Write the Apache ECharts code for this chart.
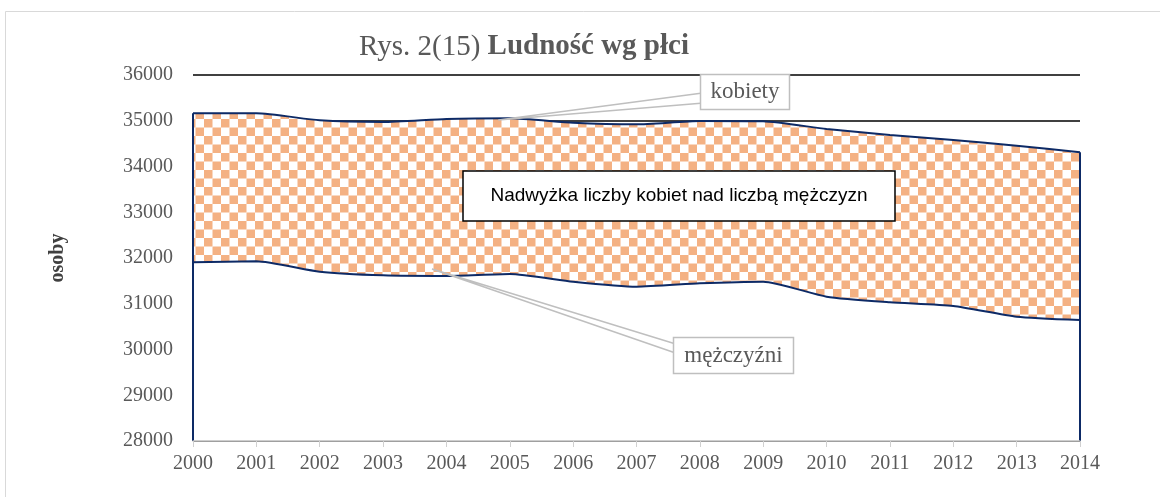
<!DOCTYPE html>
<html>
<head>
<meta charset="utf-8">
<script src="https://cdn.jsdelivr.net/npm/echarts@6/dist/echarts.min.js"></script>
<style>
html,body{margin:0;padding:0;background:#fff;}
#chart{width:1160px;height:497px;}
</style>
</head>
<body>
<div id="chart"></div>
<script>
const years = ['2000','2001','2002','2003','2004','2005','2006','2007','2008','2009','2010','2011','2012','2013','2014'];
const kobiety = [35163,35163,35010,34973,35038,35054,34957,34922,34995,34988,34820,34689,34579,34455,34310];
const mezczyzni = [31906,31928,31701,31621,31607,31650,31483,31374,31447,31483,31155,31031,30951,30718,30645];
const yMin = 28000, yMax = 36000, yStep = 1000;
const titlePlain = 'Rys. 2(15) ';
const titleBold = 'Ludność wg płci';
const yName = 'osoby';
const labelK = 'kobiety';
const labelM = 'mężczyźni';
const centerText = 'Nadwyżka liczby kobiet nad liczbą mężczyzn';

const NAVY = '#0d2a66';
const GREY_TXT = '#595959';
const SERIF = '"Liberation Serif", "DejaVu Serif", serif';
const SANS = '"Liberation Sans", Arial, sans-serif';

// checker pattern
const pc = document.createElement('canvas');
pc.width = 17; pc.height = 17;
const ctx = pc.getContext('2d');
ctx.fillStyle = '#ffffff'; ctx.fillRect(0,0,17,17);
ctx.fillStyle = '#f4b183';
ctx.fillRect(0,0,8.5,8.5);
ctx.fillRect(8.5,8.5,8.5,8.5);

const chart = echarts.init(document.getElementById('chart'), null, {renderer:'canvas'});
const last = years.length - 1;

chart.setOption({
  animation: false,
  backgroundColor: '#ffffff',
  grid: {left: 193, right: 80, top: 75, bottom: 56, outerBoundsMode: 'none', containLabel: false},
  xAxis: {
    type: 'category', data: years, boundaryGap: false, z: 5,
    axisLine: {show: true, lineStyle: {color: '#bfbfbf', width: 1.5}},
    axisTick: {show: true, alignWithLabel: true, length: 6, lineStyle: {color: '#d0d0d0', width: 1}},
    axisLabel: {color: GREY_TXT, fontFamily: SERIF, fontSize: 20, margin: 13, interval: 0},
    splitLine: {show: false}
  },
  yAxis: {
    type: 'value', min: yMin, max: yMax, interval: yStep,
    axisLine: {show: false}, axisTick: {show: false},
    axisLabel: {color: GREY_TXT, fontFamily: SERIF, fontSize: 20, margin: 20,
      formatter: function (v) { return String(v); }},
    splitLine: {show: true, lineStyle: {color: '#000000', width: 1.6}}
  },
  series: [
    {
      name: labelK, type: 'line', data: kobiety, smooth: 0.2, symbol: 'none',
      lineStyle: {color: NAVY, width: 2},
      areaStyle: {color: {image: pc, repeat: 'repeat'}, opacity: 1, origin: 'start'},
      z: 2
    },
    {
      name: labelM, type: 'line', data: mezczyzni, smooth: 0.2, symbol: 'none',
      lineStyle: {color: NAVY, width: 2},
      areaStyle: {color: '#ffffff', opacity: 1, origin: 'start'},
      z: 3,
      markLine: {
        silent: true, symbol: 'none', label: {show: false},
        lineStyle: {color: NAVY, width: 2, type: 'solid'},
        data: [
          [{coord: [years[0], yMin]}, {coord: [years[0], kobiety[0]]}],
          [{coord: [years[last], yMin]}, {coord: [years[last], kobiety[last]]}]
        ]
      }
    }
  ],
  graphic: [
    {type: 'rect', z: 0, silent: true, shape: {x: 5.5, y: 11.5, width: 1300, height: 700},
     style: {fill: 'none', stroke: '#d9d9d9', lineWidth: 1}},
    {type: 'text', z: 10, x: 524, y: 47, silent: true,
     style: {text: '{a|' + titlePlain + '}{b|' + titleBold + '}',
       textAlign: 'center', textVerticalAlign: 'middle',
       rich: {a: {fontFamily: SERIF, fontSize: 29, fill: GREY_TXT, color: GREY_TXT},
              b: {fontFamily: SERIF, fontSize: 29, fontWeight: 'bold', fill: GREY_TXT, color: GREY_TXT}}}},
    {type: 'text', z: 10, x: 58, y: 258, rotation: Math.PI/2, silent: true,
     style: {text: yName, font: 'bold 20px ' + SERIF, fill: '#404040', textAlign: 'center', textVerticalAlign: 'middle'}},
    // kobiety callout
    {type: 'polyline', z: 20, silent: true, shape: {points: [[700.7,93.3],[498.3,120],[700.7,103.3]]},
     style: {stroke: '#bfbfbf', lineWidth: 1.5, fill: 'none'}},
    {type: 'rect', z: 21, silent: true, shape: {x: 700.5, y: 74.5, width: 89, height: 35},
     style: {fill: '#ffffff', stroke: '#bfbfbf', lineWidth: 1.5}},
    {type: 'text', z: 22, x: 745, y: 92, silent: true,
     style: {text: labelK, font: '23px ' + SERIF, fill: GREY_TXT, textAlign: 'center', textVerticalAlign: 'middle'}},
    // mezczyzni callout
    {type: 'polyline', z: 20, silent: true, shape: {points: [[673.3,343.3],[432,269],[673.3,352.3]]},
     style: {stroke: '#bfbfbf', lineWidth: 1.5, fill: 'none'}},
    {type: 'rect', z: 21, silent: true, shape: {x: 673.5, y: 337.5, width: 120, height: 36},
     style: {fill: '#ffffff', stroke: '#bfbfbf', lineWidth: 1.5}},
    {type: 'text', z: 22, x: 733.5, y: 355.5, silent: true,
     style: {text: labelM, font: '23px ' + SERIF, fill: GREY_TXT, textAlign: 'center', textVerticalAlign: 'middle'}},
    // center box
    {type: 'rect', z: 21, silent: true, shape: {x: 463, y: 171, width: 432, height: 50},
     style: {fill: '#ffffff', stroke: '#000000', lineWidth: 1.5}},
    {type: 'text', z: 22, x: 679, y: 196, silent: true,
     style: {text: centerText, font: '19px ' + SANS, fill: '#000000', textAlign: 'center', textVerticalAlign: 'middle'}}
  ]
});
</script>
</body>
</html>
